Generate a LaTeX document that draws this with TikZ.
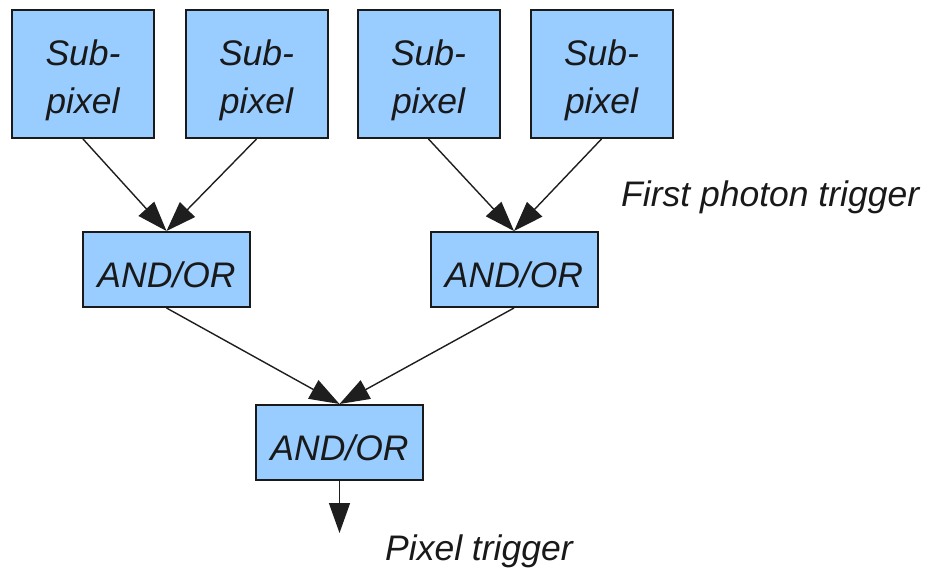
\documentclass[tikz,border=0pt]{standalone}
\usepackage{fontspec}
\setmainfont{Liberation Sans}
\usetikzlibrary{arrows.meta}
\definecolor{boxfill}{RGB}{153,204,255}
\definecolor{boxline}{RGB}{26,26,26}
\definecolor{arrline}{RGB}{30,30,30}
\begin{document}
\begin{tikzpicture}[x=1pt,y=-1pt,
  bigfont/.style={font=\fontsize{35.5}{48}\selectfont\itshape},
  spbox/.style={draw=boxline,line width=2pt,fill=boxfill,minimum width=142pt,minimum height=128pt,inner sep=0pt},
  gatebox/.style={draw=boxline,line width=2pt,fill=boxfill,minimum width=167pt,minimum height=75pt,inner sep=0pt},
  lbl/.style={bigfont,align=center,inner sep=0pt,text=black!90},
  conn/.style={draw=arrline,line width=1.4pt,-{Triangle[length=30pt,width=21pt]}},
  caption/.style={bigfont,inner sep=0pt,anchor=base west,text=black!90}]
\useasboundingbox (0,0) rectangle (928,569);
\node[spbox,label={[lbl,yshift=-6pt,name=t1]center:Sub-\\pixel}] (s1) at (83,74) {};
\node[spbox,label={[lbl,yshift=-6pt,name=t2]center:Sub-\\pixel}] (s2) at (256.5,74) {};
\node[spbox,label={[lbl,yshift=-6pt,name=t3]center:Sub-\\pixel}] (s3) at (428.5,74) {};
\node[spbox,label={[lbl,yshift=-6pt,name=t4]center:Sub-\\pixel}] (s4) at (601.5,74) {};
\node[gatebox,label={[lbl,yshift=-5pt,name=ta]center:AND/OR}] (ga) at (166.5,269.5) {};
\node[gatebox,label={[lbl,yshift=-5pt,name=tb]center:AND/OR}] (gb) at (514,269.5) {};
\node[gatebox,label={[lbl,yshift=-5pt,name=tc]center:AND/OR}] (gc) at (339.5,442.5) {};
\coordinate (out) at (339.5,533);
\draw[conn] (s1.south) -- (ga.north);
\draw[conn] (s2.south) -- (ga.north);
\draw[conn] (s3.south) -- (gb.north);
\draw[conn] (s4.south) -- (gb.north);
\draw[conn] (ga.south) -- (gc.north);
\draw[conn] (gb.south) -- (gc.north);
\draw[conn] (gc.south) -- (out);
\node[caption] (fpt) at (621,207) {First photon trigger};
\node[caption] (pt) at (385,560) {Pixel trigger};
\end{tikzpicture}
\end{document}
